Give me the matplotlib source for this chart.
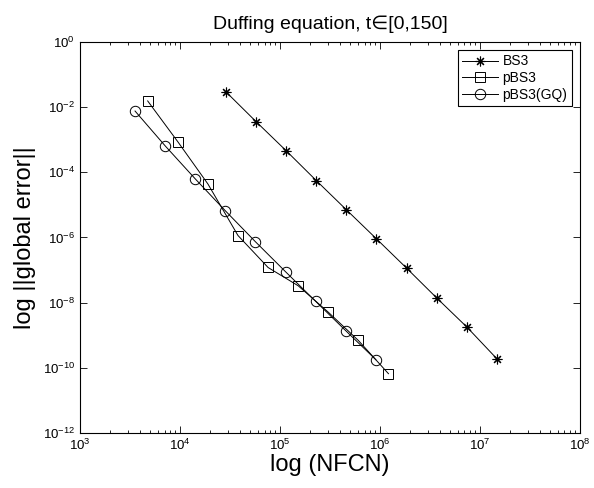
import matplotlib
matplotlib.use("Agg")
import matplotlib.pyplot as plt
from matplotlib.ticker import LogLocator, NullLocator

plt.rcParams['font.family'] = ['Liberation Sans', 'DejaVu Sans']
plt.rcParams['mathtext.fontset'] = 'custom'
plt.rcParams['mathtext.rm'] = 'Liberation Sans'

# number of function calls / global error
nfcn_bs3 = [28800, 57600, 115200, 230400, 460800, 921600, 1843200, 3686400, 7372800, 14745600]
err_bs3 = [2.95e-2, 3.6e-3, 4.6e-4, 5.6e-5, 7.1e-6, 9.1e-7, 1.15e-7, 1.4e-8, 1.8e-9, 1.9e-10]

nfcn_pbs3 = [4750, 9500, 19000, 38000, 76000, 152000, 304000, 608000, 1216000]
err_pbs3 = [1.55e-2, 8.7e-4, 4.4e-5, 1.15e-6, 1.2e-7, 3.3e-8, 5.1e-9, 6.9e-10, 6.6e-11]

nfcn_gq = [3550, 7100, 14200, 28400, 56800, 113600, 227200, 454400, 908800]
err_gq = [7.6e-3, 6.5e-4, 6.3e-5, 6.6e-6, 7.4e-7, 8.9e-8, 1.1e-8, 1.38e-9, 1.78e-10]

fig = plt.figure(figsize=(5.94, 4.88), dpi=100)
ax = fig.add_axes([0.1347, 0.1127, 0.8417, 0.8013])

ax.loglog(nfcn_bs3, err_bs3, color='k', lw=0.7, marker=(8, 2, 0), ms=7,
          mew=0.8, label='BS3')
ax.loglog(nfcn_pbs3, err_pbs3, color='k', lw=0.7, marker='s', ms=6.5,
          mfc='none', mew=0.7, label='pBS3')
ax.loglog(nfcn_gq, err_gq, color='k', lw=0.7, marker='o', ms=7.5,
          mfc='none', mew=0.7, label='pBS3(GQ)')

ax.set_xlim(1e3, 1e8)
ax.set_ylim(1e-12, 1e0)
ax.set_yticks([10.0 ** k for k in range(-12, 1, 2)])
ax.yaxis.set_minor_locator(NullLocator())
ax.xaxis.set_minor_locator(LogLocator(base=10, subs=range(2, 10), numticks=20))

ax.tick_params(which='both', direction='in', top=True, right=True, labelsize=9.5)
ax.tick_params(which='major', length=5, width=0.6)
ax.tick_params(which='minor', length=2.5, width=0.6)
for s in ax.spines.values():
    s.set_linewidth(0.8)

ax.set_title('Duffing equation, t\u2208[0,150]', fontsize=14, pad=9)
ax.set_xlabel('log (NFCN)', fontsize=17, labelpad=1)
ax.set_ylabel('log ||global error||', fontsize=17, labelpad=5)

leg = ax.legend(loc='upper right', fontsize=10, fancybox=False, framealpha=1,
                edgecolor='k', borderpad=0.3, labelspacing=0.2, handlelength=2.6,
                handletextpad=0.3, borderaxespad=0.6)
leg.get_frame().set_linewidth(0.8)

fig.savefig('out.png', dpi=100)
